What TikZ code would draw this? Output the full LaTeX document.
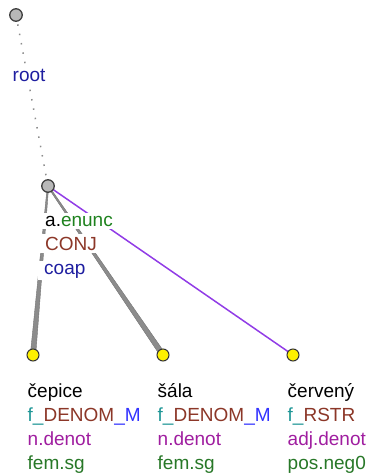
\documentclass[tikz,border=0pt]{standalone}
\usepackage{fontspec}
\setmainfont{Liberation Sans}
\usetikzlibrary{calc}
\definecolor{cteal}{RGB}{30,150,150}
\definecolor{cbrown}{RGB}{140,55,40}
\definecolor{cblue}{RGB}{50,50,255}
\definecolor{cdblue}{RGB}{30,30,160}
\definecolor{cpurple}{RGB}{160,30,160}
\definecolor{cgreen}{RGB}{40,120,40}
\definecolor{cgreen2}{RGB}{30,130,30}
\definecolor{cviolet}{RGB}{145,60,230}
\definecolor{cyel}{RGB}{255,240,0}
\pgfdeclarelayer{edges}
\pgfdeclarelayer{labels}
\pgfsetlayers{edges,labels,main}
\begin{document}
\begin{tikzpicture}[x=1pt,y=-1pt,
  every node/.style={font=\fontsize{19}{24}\selectfont},
  lbl/.style={anchor=base west,inner xsep=3pt,inner ysep=1.5pt,fill=white},
  albl/.style={lbl,inner xsep=6pt,inner ysep=2.5pt},
  gnode/.style={circle,draw=black!75,fill=black!28,line width=1.3pt,minimum size=12.5pt,inner sep=0pt},
  ynode/.style={circle,draw=black!80,fill=cyel,line width=1pt,minimum size=12pt,inner sep=0pt},
  rootedge/.style={draw=black!45,line width=1.5pt,dash pattern=on 1.5pt off 8pt},
  coapedge/.style={fill=black!45,draw=black!55,line width=0.4pt},
  rstredge/.style={draw=cviolet,line width=1.5pt}]
\useasboundingbox (0,0) rectangle (369,474);
% nodes
\node[gnode] (r) at (16,15) {};
\node[gnode] (a) at (48,186) {};
\node[ynode] (c1) at (33,355) {};
\node[ynode] (c2) at (163,355) {};
\node[ynode] (c3) at (293,355) {};
% edges
\begin{pgfonlayer}{edges}
\draw[rootedge] (r.center) -- (a.center);
\fill[coapedge] ($(a.center)!0.7pt!90:(c1.center)$) -- ($(c1.center)!2.7pt!-90:(a.center)$) -- ($(c1.center)!2.7pt!90:(a.center)$) -- ($(a.center)!0.7pt!-90:(c1.center)$) -- cycle;
\fill[coapedge] ($(a.center)!0.7pt!90:(c2.center)$) -- ($(c2.center)!2.7pt!-90:(a.center)$) -- ($(c2.center)!2.7pt!90:(a.center)$) -- ($(a.center)!0.7pt!-90:(c2.center)$) -- cycle;
\draw[rstredge] (a.center) -- (c3.center);
\end{pgfonlayer}
% labels
\begin{pgfonlayer}{labels}
\node[lbl,text=cdblue] (lroot) at (9.5,81) {root};
\node[albl] (la1) at (39,226) {a.\textcolor{cgreen2}{enunc}};
\node[albl,text=cbrown] (la2) at (39,250) {CONJ};
\node[albl,text=cdblue] (la3) at (38,274) {coap};
\node[lbl] (l11) at (24.5,397) {čepice};
\node[lbl] (l12) at (24.5,421) {\textcolor{cteal}{f\_}\textcolor{cbrown}{DENOM}\textcolor{cblue}{\_M}};
\node[lbl,text=cpurple] (l13) at (24.5,445) {n.denot};
\node[lbl,text=cgreen] (l14) at (24.5,469) {fem.sg};
\node[lbl] (l21) at (154.5,397) {šála};
\node[lbl] (l22) at (154.5,421) {\textcolor{cteal}{f\_}\textcolor{cbrown}{DENOM}\textcolor{cblue}{\_M}};
\node[lbl,text=cpurple] (l23) at (154.5,445) {n.denot};
\node[lbl,text=cgreen] (l24) at (154.5,469) {fem.sg};
\node[lbl] (l31) at (284.5,397) {červený};
\node[lbl] (l32) at (284.5,421) {\textcolor{cteal}{f\_}\textcolor{cbrown}{RSTR}};
\node[lbl,text=cpurple] (l33) at (284.5,445) {adj.denot};
\node[lbl,text=cgreen] (l34) at (284.5,469) {pos.neg0};
\end{pgfonlayer}
\end{tikzpicture}
\end{document}
